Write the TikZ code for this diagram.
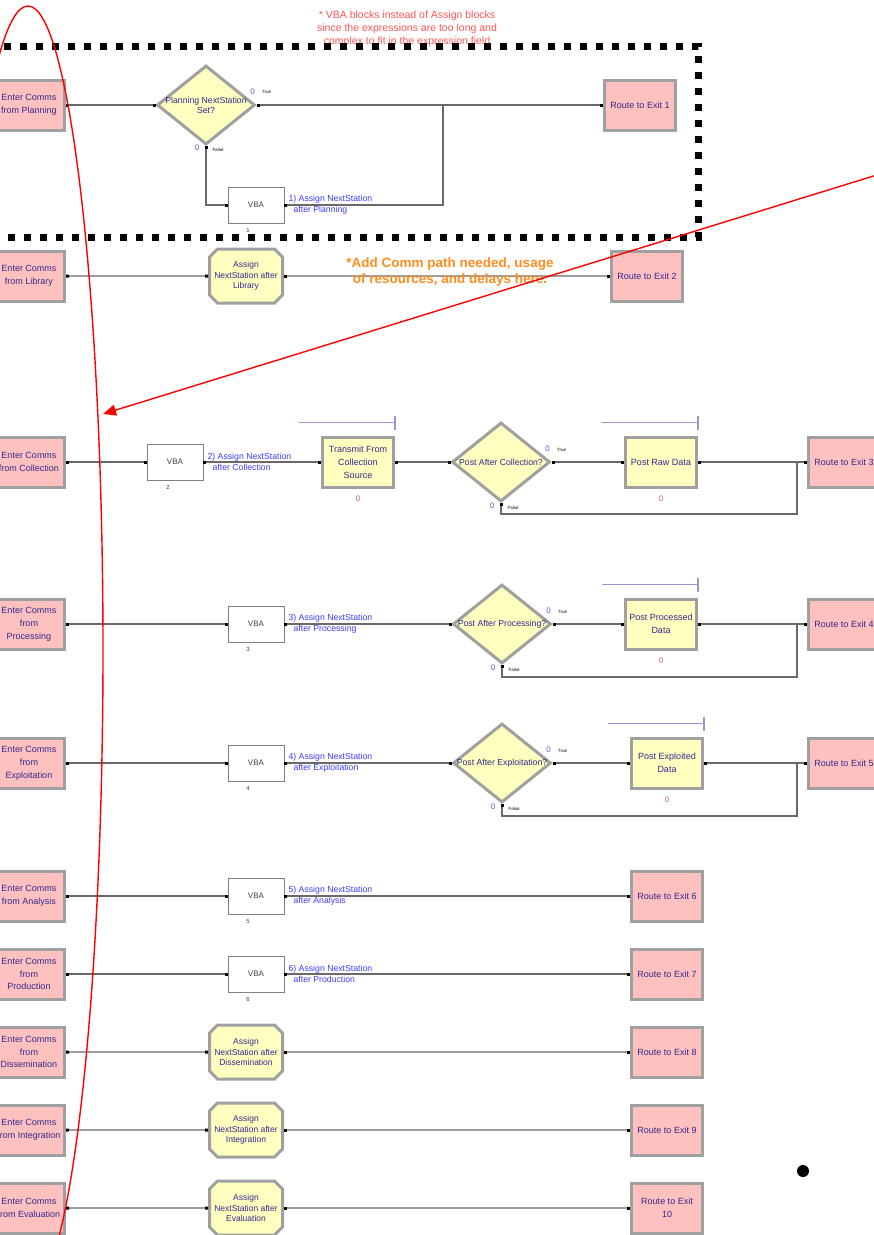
\documentclass[tikz,border=0pt]{standalone}
\usepackage{fontspec}
\setmainfont{Liberation Sans}
\usetikzlibrary{shapes.geometric,shapes.misc,arrows.meta}
\definecolor{pinkbox}{RGB}{255,192,192}
\definecolor{yellowbox}{RGB}{255,255,192}
\definecolor{boxgray}{RGB}{160,160,160}
\definecolor{inkblue}{RGB}{50,40,140}
\definecolor{tagblue}{RGB}{60,60,255}
\definecolor{cntblue}{RGB}{90,90,200}
\definecolor{qred}{RGB}{190,100,100}
\definecolor{queueblue}{RGB}{150,150,210}
\definecolor{linkgray}{RGB}{105,105,105}
\definecolor{noteorange}{RGB}{255,140,30}
\definecolor{notered}{RGB}{255,85,85}

\begin{document}
\begin{tikzpicture}[x=1pt,y=-1pt,every node/.style={inner sep=0pt},
  entry/.style={rectangle,fill=pinkbox,draw=boxgray,line width=3pt,minimum width=71pt,minimum height=50pt,text=inkblue,align=center,font=\fontsize{9}{12.8}\selectfont},
  route/.style={entry},
  process/.style={entry,fill=yellowbox},
  assign/.style={chamfered rectangle,chamfered rectangle xsep=4pt,chamfered rectangle ysep=4pt,fill=yellowbox,draw=boxgray,line width=3pt,minimum width=73pt,minimum height=54pt,text=inkblue,align=center,font=\fontsize{8.5}{10.7}\selectfont},
  decide/.style={diamond,fill=yellowbox,draw=boxgray,line width=3pt,minimum width=98pt,minimum height=79pt},
  dtext/.style={text=inkblue,align=center,font=\fontsize{8.7}{10}\selectfont},
  vbabox/.style={rectangle,fill=white,draw=gray,line width=0.8pt,minimum width=56pt,minimum height=36pt,text=black!75,font=\fontsize{8}{10}\selectfont},
  tag/.style={anchor=west,text=tagblue,align=left,font=\fontsize{8.7}{11}\selectfont},
  num/.style={text=black!75,font=\fontsize{6}{7}\selectfont},
  cnt/.style={text=cntblue,font=\fontsize{8}{9}\selectfont},
  qcnt/.style={text=qred,font=\fontsize{8}{9}\selectfont},
  tiny/.style={font=\fontsize{4.5}{5}\selectfont},
  queue/.style={draw=queueblue,line width=1.2pt},
  link/.style={draw=linkgray,line width=1.2pt,{Square[length=3pt,width=3pt,color=black]}-{Square[length=3pt,width=3pt,color=black]}},
  linkout/.style={draw=linkgray,line width=1.2pt,{Square[length=3pt,width=3pt,color=black]}-},
  redline/.style={draw=red,line width=1.4pt}]
\useasboundingbox (0,0) rectangle (874,1235);
\clip (0,0) rectangle (874,1235);

\node[text=notered,align=center,font=\fontsize{10.5}{13}\selectfont] (vbanote) at (407,29) {* VBA blocks instead of Assign blocks\\since the expressions are too long and\\complex to fit in the expression field};

\node[entry] (ent1) at (29,105) {Enter Comms\\from Planning};
\node[decide,label={[dtext]center:Planning NextStation\\Set?}] (dec1) at (206,105) {};
\node[route] (exit1) at (640,105) {Route to Exit 1};
\node[vbabox] (vba1) at (256,205) {VBA};
\node[num] (num1) at ([shift={(-8,7)}]vba1.south) {1};
\node[tag] (tag1) at ([shift={(4,0)}]vba1.east) {1) Assign NextStation\\\hspace{5pt}after Planning};
\node[cnt] (tr1) at ([shift={(-4,-13)}]dec1.east) {0};
\node[tiny] (trt1) at ([shift={(10,-13)}]dec1.east) {True};
\node[cnt] (fa1) at ([shift={(-9,2)}]dec1.south) {0};
\node[tiny] (fat1) at ([shift={(12,4)}]dec1.south) {False};
\coordinate (j1) at (443,105);
\draw[link] (ent1) -- (dec1);
\draw[link] (dec1) -- (exit1);
\draw[link] (dec1.south) |- (vba1);
\draw[linkout] (vba1.east) -| (j1);

\draw[line width=7pt,dash pattern=on 7pt off 9pt] (-12,46) -- (698,46) -- (698,237) -- (-12,237);

\node[entry] (ent2) at (29,276) {Enter Comms\\from Library};
\node[assign] (asg2) at (246,276) {Assign\\NextStation after\\Library};
\node[route] (exit2) at (647,276) {Route to Exit 2};
\draw[link] (ent2) -- (asg2);
\draw[link] (asg2) -- (exit2);
\node[text=noteorange,align=center,font=\bfseries\fontsize{13.5}{15.5}\selectfont] (addnote) at (450,272) {*Add Comm path needed, usage\\of resources, and delays here.};

\node[entry] (ent3) at (29,462) {Enter Comms\\from Collection};
\node[vbabox] (vba2) at (175,462) {VBA};
\node[num] (num2) at ([shift={(-7,7)}]vba2.south) {2};
\node[tag] (tag2) at ([shift={(4,0)}]vba2.east) {2) Assign NextStation\\\hspace{5pt}after Collection};
\node[process] (xmit) at (358,462) {Transmit From\\Collection\\Source};
\node[qcnt] (qx) at ([yshift=-10pt]xmit.south) {0};
\draw[queue] ([shift={(-22,-13)}]xmit.north west) -- ([shift={(0,-13)}]xmit.north east) ++(0,-7) -- ++(0,14);
\node[decide,label={[dtext]center:Post After Collection?}] (dec3) at (501,462) {};
\node[cnt] (tr3) at ([shift={(-4,-13)}]dec3.east) {0};
\node[tiny] (trt3) at ([shift={(10,-12)}]dec3.east) {True};
\node[cnt] (fa3) at ([shift={(-9,3)}]dec3.south) {0};
\node[tiny] (fat3) at ([shift={(12,5)}]dec3.south) {False};
\node[process] (raw) at (661,462) {Post Raw Data};
\node[qcnt] (qr) at ([yshift=-10pt]raw.south) {0};
\draw[queue] ([shift={(-22,-13)}]raw.north west) -- ([shift={(0,-13)}]raw.north east) ++(0,-7) -- ++(0,14);
\node[route] (exit3) at (844,462) {Route to Exit 3};
\coordinate (j3) at (797,462);
\draw[link] (ent3) -- (vba2);
\draw[link] (vba2) -- (xmit);
\draw[link] (xmit) -- (dec3);
\draw[link] (dec3) -- (raw);
\draw[link] (raw) -- (exit3);
\draw[linkout] (dec3.south) -- ++(0,11) -| (j3);

\node[entry] (ent4) at (29,624) {Enter Comms\\from\\Processing};
\node[vbabox] (vba3) at (256,624) {VBA};
\node[num] (num3) at ([shift={(-8,7)}]vba3.south) {3};
\node[tag] (tag3) at ([shift={(4,0)}]vba3.east) {3) Assign NextStation\\\hspace{5pt}after Processing};
\node[decide,label={[dtext]center:Post After Processing?}] (dec4) at (502,624) {};
\node[cnt] (tr4) at ([shift={(-4,-13)}]dec4.east) {0};
\node[tiny] (trt4) at ([shift={(10,-12)}]dec4.east) {True};
\node[cnt] (fa4) at ([shift={(-9,3)}]dec4.south) {0};
\node[tiny] (fat4) at ([shift={(12,5)}]dec4.south) {False};
\node[process] (procd) at (661,624) {Post Processed\\Data};
\node[qcnt] (qp) at ([yshift=-10pt]procd.south) {0};
\draw[queue] ([shift={(-22,-13)}]procd.north west) -- ([shift={(0,-13)}]procd.north east) ++(0,-7) -- ++(0,14);
\node[route] (exit4) at (844,624) {Route to Exit 4};
\coordinate (j4) at (797,624);
\draw[link] (ent4) -- (vba3);
\draw[link] (vba3) -- (dec4);
\draw[link] (dec4) -- (procd);
\draw[link] (procd) -- (exit4);
\draw[linkout] (dec4.south) -- ++(0,12) -| (j4);

\node[entry] (ent5) at (29,763) {Enter Comms\\from\\Exploitation};
\node[vbabox] (vba4) at (256,763) {VBA};
\node[num] (num4) at ([shift={(-8,7)}]vba4.south) {4};
\node[tag] (tag4) at ([shift={(4,0)}]vba4.east) {4) Assign NextStation\\\hspace{5pt}after Exploitation};
\node[decide,label={[dtext]center:Post After Exploitation?}] (dec5) at (502,763) {};
\node[cnt] (tr5) at ([shift={(-4,-13)}]dec5.east) {0};
\node[tiny] (trt5) at ([shift={(10,-12)}]dec5.east) {True};
\node[cnt] (fa5) at ([shift={(-9,3)}]dec5.south) {0};
\node[tiny] (fat5) at ([shift={(12,5)}]dec5.south) {False};
\node[process] (expl) at (667,763) {Post Exploited\\Data};
\node[qcnt] (qe) at ([yshift=-10pt]expl.south) {0};
\draw[queue] ([shift={(-22,-13)}]expl.north west) -- ([shift={(0,-13)}]expl.north east) ++(0,-7) -- ++(0,14);
\node[route] (exit5) at (844,763) {Route to Exit 5};
\coordinate (j5) at (797,763);
\draw[link] (ent5) -- (vba4);
\draw[link] (vba4) -- (dec5);
\draw[link] (dec5) -- (expl);
\draw[link] (expl) -- (exit5);
\draw[linkout] (dec5.south) -- ++(0,12) -| (j5);

\node[entry] (ent6) at (29,896) {Enter Comms\\from Analysis};
\node[vbabox] (vba5) at (256,896) {VBA};
\node[num] (num5) at ([shift={(-8,7)}]vba5.south) {5};
\node[tag] (tag5) at ([shift={(4,0)}]vba5.east) {5) Assign NextStation\\\hspace{5pt}after Analysis};
\node[route] (exit6) at (667,896) {Route to Exit 6};
\draw[link] (ent6) -- (vba5);
\draw[link] (vba5) -- (exit6);

\node[entry] (ent7) at (29,974) {Enter Comms\\from\\Production};
\node[vbabox] (vba6) at (256,974) {VBA};
\node[num] (num6) at ([shift={(-8,7)}]vba6.south) {6};
\node[tag] (tag6) at ([shift={(4,0)}]vba6.east) {6) Assign NextStation\\\hspace{5pt}after Production};
\node[route] (exit7) at (667,974) {Route to Exit 7};
\draw[link] (ent7) -- (vba6);
\draw[link] (vba6) -- (exit7);

\node[entry] (ent8) at (29,1052) {Enter Comms\\from\\Dissemination};
\node[assign] (asg8) at (246,1052) {Assign\\NextStation after\\Dissemination};
\node[route] (exit8) at (667,1052) {Route to Exit 8};
\draw[link] (ent8) -- (asg8);
\draw[link] (asg8) -- (exit8);

\node[entry] (ent9) at (29,1130) {Enter Comms\\from Integration};
\node[assign] (asg9) at (246,1130) {Assign\\NextStation after\\Integration};
\node[route] (exit9) at (667,1130) {Route to Exit 9};
\draw[link] (ent9) -- (asg9);
\draw[link] (asg9) -- (exit9);

\node[entry] (ent10) at (29,1208) {Enter Comms\\from Evaluation};
\node[assign] (asg10) at (246,1208) {Assign\\NextStation after\\Evaluation};
\node[route] (exit10) at (667,1208) {Route to Exit\\10};
\draw[link] (ent10) -- (asg10);
\draw[link] (asg10) -- (exit10);

\draw[redline] (28,650) ellipse [x radius=75pt,y radius=644pt];
\coordinate (arrstart) at (880,174);
\coordinate (arrtip) at (103,414);
\draw[redline,-{Triangle[length=13pt,width=11pt]}] (arrstart) -- (arrtip);
\fill (803,1171) circle [radius=6pt];
\end{tikzpicture}
\end{document}
